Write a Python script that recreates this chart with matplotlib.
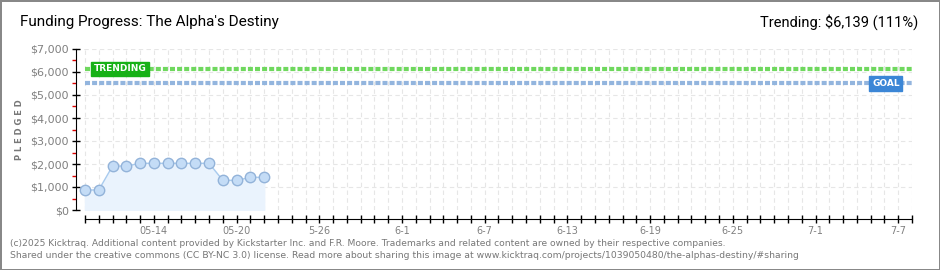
import matplotlib
matplotlib.use("Agg")
import matplotlib.pyplot as plt
import matplotlib.dates as mdates
import pandas as pd
import numpy as np

# ---- data ----
dates = ["2025-05-09", "2025-05-10", "2025-05-11", "2025-05-12", "2025-05-13",
         "2025-05-14", "2025-05-15", "2025-05-16", "2025-05-17", "2025-05-18",
         "2025-05-19", "2025-05-20", "2025-05-21", "2025-05-22"]
pledged = [870, 870, 1910, 1910, 2030, 2030, 2030, 2030, 2030, 2030,
           1290, 1290, 1420, 1420]
trending = 6139
goal = 5500
tick_dates = ["2025-05-14", "2025-05-20", "2025-05-26", "2025-06-01", "2025-06-07",
              "2025-06-13", "2025-06-19", "2025-06-25", "2025-07-01", "2025-07-07"]
tick_labels = ["05-14", "05-20", "5-26", "6-1", "6-7", "6-13", "6-19", "6-25", "7-1", "7-7"]
y_ticks = [0, 1000, 2000, 3000, 4000, 5000, 6000, 7000]
y_labels = ["$0", "$1,000", "$2,000", "$3,000", "$4,000", "$5,000", "$6,000", "$7,000"]
start_date = "2025-05-09"
end_date = "2025-07-08"

x = mdates.date2num(pd.to_datetime(dates))
x0 = mdates.date2num(pd.Timestamp(start_date))
x1 = mdates.date2num(pd.Timestamp(end_date))

fig = plt.figure(figsize=(9.4, 2.7), dpi=100)
fig.patch.set_facecolor("white")
fig.patch.set_edgecolor("#888888")
fig.patch.set_linewidth(2)

W, H = 940, 270
L, R, T, B = 76, 912, 49, 210
ax = fig.add_axes([L / W, (H - B) / H, (R - L) / W, (B - T) / H])
ax.set_facecolor("white")

ax.set_xlim(x0 - 0.65, x1 + 0.0)
ax.set_ylim(0, 7000)

# grid
for d in np.arange(x0, x1 + 0.5, 1.0):
    ax.axvline(d, color="#e6e6e6", lw=0.8, ls=(0, (4, 3)), zorder=0)
for yv in y_ticks[1:]:
    ax.axhline(yv, color="#e6e6e6", lw=0.8, ls=(0, (4, 3)), zorder=0)

# goal / trending lines
ax.plot([x0, x1], [trending, trending], color="#6fd85e", lw=3, ls=(0, (1.2, 0.5)), zorder=2)
ax.plot([x0, x1], [goal, goal], color="#93b5de", lw=3, ls=(0, (1.2, 0.5)), zorder=2)

# data
ax.fill_between(x, pledged, 0, color="#eaf3fd", zorder=1)
ax.plot(x, pledged, color="#a9cbee", lw=1, zorder=3)
ax.plot(x, pledged, ls="none", marker="o", ms=7.5, mfc="#c4dcf6", mec="#93b3d9", mew=1, zorder=4)

# labels
ax.text(x0 + 0.65, trending, "TRENDING", color="white", fontsize=6.5, fontweight="bold",
        va="center", ha="left", zorder=5,
        bbox=dict(boxstyle="square,pad=0.3", fc="#17b117", ec="#17b117"))
ax.text(x1 - 2.9, goal, "GOAL", color="white", fontsize=6.5, fontweight="bold",
        va="center", ha="left", zorder=5,
        bbox=dict(boxstyle="square,pad=0.3", fc="#3b86d6", ec="#3b86d6"))

# spines
for s in ["top", "right"]:
    ax.spines[s].set_visible(False)
ax.spines["left"].set_color("black")
ax.spines["bottom"].set_color("black")
ax.spines["bottom"].set_position(("outward", 6.5))
ax.spines["bottom"].set_bounds(x0, x1)

ax.set_yticks(y_ticks)
ax.set_yticklabels(y_labels)
ax.set_yticks([500 + 1000 * i for i in range(7)], minor=True)
ax.tick_params(axis="y", which="major", direction="inout", length=6, width=1, colors="black",
               labelcolor="#808080", labelsize=8, pad=2)
ax.tick_params(axis="y", which="minor", direction="out", length=3, width=1, color="#dd0000")

ax.set_xticks(np.arange(x0, x1 + 0.5, 1.0), minor=True)
ax.set_xticks(mdates.date2num(pd.to_datetime(tick_dates)))
ax.set_xticklabels(tick_labels)
ax.tick_params(axis="x", which="both", direction="inout", length=6, width=1, colors="black",
               labelcolor="#808080", labelsize=7, pad=2)

ax.set_ylabel("P L E D G E D", fontsize=6, color="#777777", fontweight="bold")
ax.yaxis.set_label_coords(-0.062, 0.5)

fig.text(20 / W, 1 - 22 / H, "Funding Progress: The Alpha's Destiny", fontsize=11,
         family="Roboto", color="black", va="center", ha="left")
fig.text(918 / W, 1 - 22 / H, "Trending: $6,139 (111%)", fontsize=10.5,
         family="Roboto", color="black", va="center", ha="right")

fig.text(10 / W, 1 - 243 / H,
         "(c)2025 Kicktraq. Additional content provided by Kickstarter Inc. and F.R. Moore. "
         "Trademarks and related content are owned by their respective companies.",
         fontsize=6.6, color="#777777", va="center", ha="left")
fig.text(10 / W, 1 - 256 / H,
         "Shared under the creative commons (CC BY-NC 3.0) license. Read more about sharing this "
         "image at www.kicktraq.com/projects/1039050480/the-alphas-destiny/#sharing",
         fontsize=6.7, color="#777777", va="center", ha="left")

fig.savefig("out.png", dpi=100, facecolor=fig.get_facecolor(), edgecolor=fig.get_edgecolor())
